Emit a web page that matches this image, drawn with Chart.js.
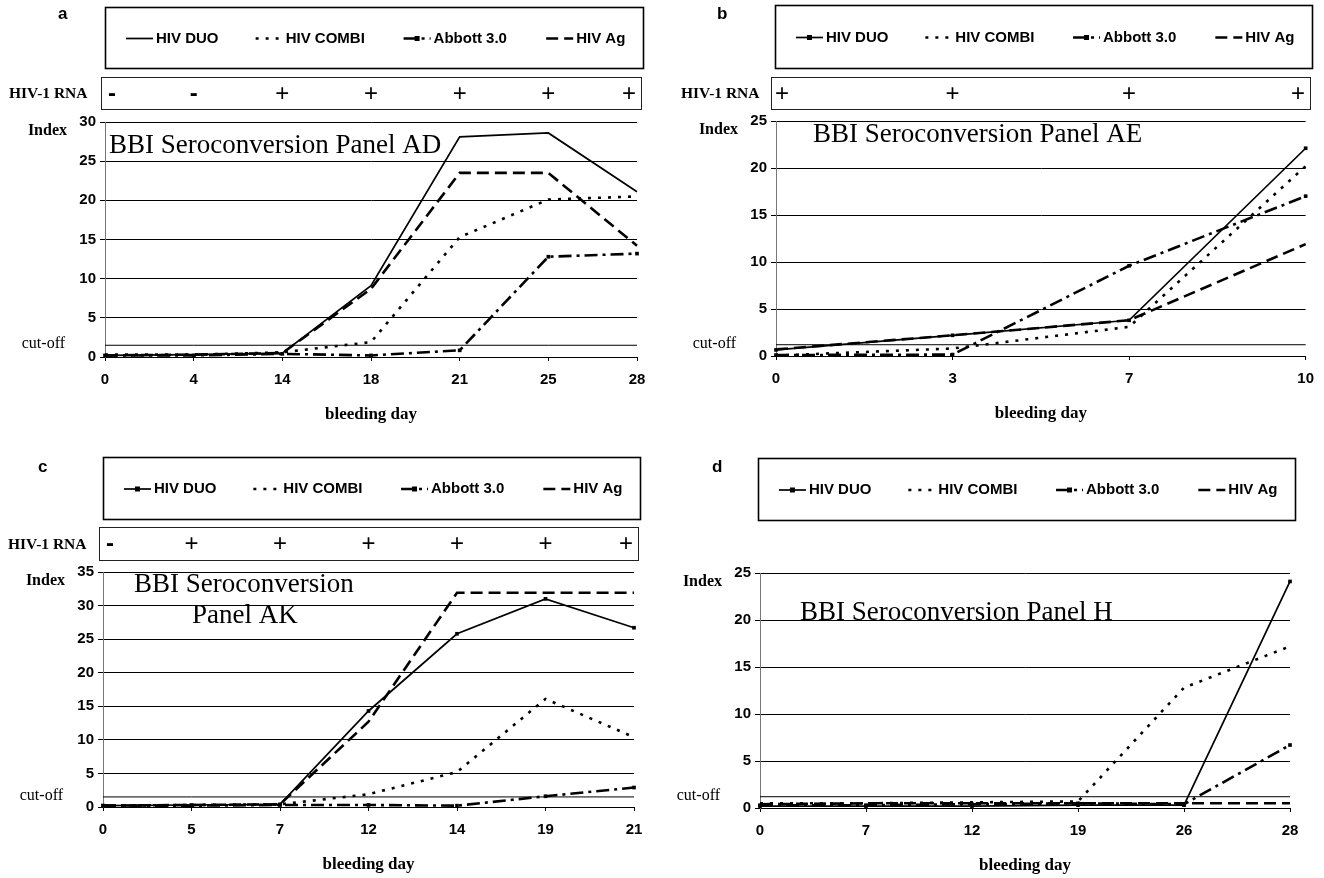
<!DOCTYPE html>
<html><head><meta charset="utf-8">
<script src="https://cdn.jsdelivr.net/npm/chart.js@4.4.1/dist/chart.umd.min.js"></script>
<style>
html,body{margin:0;padding:0;background:#fff;}
#wrap{position:relative;width:1324px;height:878px;background:#fff;}
canvas{position:absolute;}
</style></head><body><div id="wrap">
<canvas id="ca" width="662" height="440" style="left:0;top:0"></canvas>
<canvas id="cb" width="662" height="440" style="left:662px;top:0"></canvas>
<canvas id="cc" width="662" height="440" style="left:0;top:440px"></canvas>
<canvas id="cd" width="662" height="440" style="left:662px;top:440px"></canvas>
</div>
<script>
// ---------- data ----------
const seriesNames = ['HIV DUO', 'HIV COMBI', 'Abbott 3.0', 'HIV Ag'];

// panel a : BBI Seroconversion Panel AD
const daysA   = ['0', '4', '14', '18', '21', '25', '28'];
const duoA    = [0.2, 0.3, 0.5, 9.1, 28.1, 28.6, 21.1];
const combiA  = [0.3, 0.3, 0.6, 1.9, 15.3, 20.1, 20.5];
const abbottA = [0.2, 0.2, 0.4, 0.2, 0.85, 12.8, 13.2];
const agA     = [0.2, 0.3, 0.5, 8.7, 23.5, 23.5, 14.2];
const rnaA    = ['-', '-', '+', '+', '+', '+', '+'];
const yTicksA = [0, 5, 10, 15, 20, 25, 30];
const cutoffA = 1.5;

// panel b : BBI Seroconversion Panel AE
const daysB   = ['0', '3', '7', '10'];
const duoB    = [0.65, 2.2, 3.8, 22.1];
const combiB  = [0.05, 0.8, 3.1, 20.2];
const abbottB = [0.1, 0.15, 9.6, 17.0];
const agB     = [0.7, 2.2, 3.8, 11.9];
const rnaB    = ['+', '+', '+', '+'];
const yTicksB = [0, 5, 10, 15, 20, 25];
const cutoffB = 1.2;

// panel c : BBI Seroconversion Panel AK
const daysC   = ['0', '5', '7', '12', '14', '19', '21'];
const duoC    = [0.2, 0.3, 0.4, 14.3, 25.8, 31.0, 26.7];
const combiC  = [0.2, 0.3, 0.4, 1.9, 5.2, 16.1, 10.4];
const abbottC = [0.2, 0.2, 0.3, 0.3, 0.2, 1.6, 2.9];
const agC     = [0.2, 0.3, 0.4, 12.7, 31.9, 31.9, 31.9];
const rnaC    = ['-', '+', '+', '+', '+', '+', '+'];
const yTicksC = [0, 5, 10, 15, 20, 25, 30, 35];
const cutoffC = 1.5;

// panel d : BBI Seroconversion Panel H
const daysD   = ['0', '7', '12', '19', '26', '28'];
const duoD    = [0.2, 0.2, 0.2, 0.3, 0.3, 24.1];
const combiD  = [0.5, 0.5, 0.6, 0.7, 12.8, 17.2];
const abbottD = [0.3, 0.3, 0.4, 0.5, 0.4, 6.7];
const agD     = [0.4, 0.5, 0.5, 0.5, 0.5, 0.5];
const yTicksD = [0, 5, 10, 15, 20, 25];
const cutoffD = 1.2;

// ---------- layout / styles ----------
const SANS = '"Liberation Sans", Arial, Helvetica, sans-serif';
const SERIF = '"Liberation Serif", "Times New Roman", Times, serif';

const panels = [
  { id:'ca', letter:'a', letterPos:[58,19], area:{l:105,t:122,r:637,b:357},
    days:daysA, series:[duoA,combiA,abbottA,agA], markers:[false,false,true,false],
    rna:rnaA, yTicks:yTicksA, cutoff:cutoffA,
    legendBox:{x:105,y:7,w:538,h:61}, rnaBox:{x:101,y:77,w:540,h:32}, rnaLabel:[9,94],
    titles:[['BBI Seroconversion Panel AD',109,153]] },
  { id:'cb', letter:'b', letterPos:[55,19], area:{l:114,t:121,r:644,b:356},
    days:daysB, series:[duoB,combiB,abbottB,agB], markers:[true,false,true,false],
    rna:rnaB, yTicks:yTicksB, cutoff:cutoffB,
    legendBox:{x:113,y:5,w:537,h:63}, rnaBox:{x:109,y:77,w:539,h:32}, rnaLabel:[19,94],
    titles:[['BBI Seroconversion Panel AE',151,142]] },
  { id:'cc', letter:'c', letterPos:[38,32], area:{l:103,t:132,r:634,b:367},
    days:daysC, series:[duoC,combiC,abbottC,agC], markers:[true,false,true,false],
    rna:rnaC, yTicks:yTicksC, cutoff:cutoffC,
    legendBox:{x:103,y:17,w:537,h:62}, rnaBox:{x:99,y:87,w:539,h:33}, rnaLabel:[8,105],
    titles:[['BBI Seroconversion',134,152],['Panel AK',192,183]] },
  { id:'cd', letter:'d', letterPos:[50,32], area:{l:98,t:133,r:628,b:368},
    days:daysD, series:[duoD,combiD,abbottD,agD], markers:[true,false,true,false],
    rna:null, yTicks:yTicksD, cutoff:cutoffD,
    legendBox:{x:96,y:18,w:537,h:62}, rnaBox:null, rnaLabel:null,
    titles:[['BBI Seroconversion Panel H',138,180]] }
];

const lineStyles = [
  { width:1.7, dash:[] },
  { width:2.6, dash:[3,7] },
  { width:2.6, dash:[13,5,3,5] },
  { width:2.6, dash:[12,6] }
];

const Y_AXIS_W = 50, X_AXIS_H = 40;

function buildPanel(p) {
  const W = 662, H = 440;
  const datasets = p.series.map((vals, i) => ({
    label: seriesNames[i], data: vals,
    borderColor:'#000', backgroundColor:'#000',
    borderWidth: lineStyles[i].width, borderDash: lineStyles[i].dash,
    pointRadius: p.markers[i] ? 2.6 : 0, pointStyle:'rect',
    pointBackgroundColor:'#000', pointBorderColor:'#000', pointBorderWidth:0,
    tension:0, fill:false, clip:false, order:1
  }));
  datasets.push({
    label:'cut-off', data: p.days.map(() => p.cutoff),
    borderColor:'#000', borderWidth:1, pointRadius:0, tension:0, fill:false, order:5
  });

  const extras = {
    id:'extras',
    afterDraw(chart) {
      const ctx = chart.ctx, xs = chart.scales.x, ys = chart.scales.y, ca = chart.chartArea;
      ctx.save();
      ctx.fillStyle = '#000'; ctx.strokeStyle = '#000';
      // panel letter
      ctx.font = 'bold 17px ' + SANS; ctx.textAlign = 'left'; ctx.textBaseline = 'alphabetic';
      ctx.fillText(p.letter, p.letterPos[0], p.letterPos[1]);
      // legend box
      const L = p.legendBox;
      ctx.lineWidth = 1.6; ctx.setLineDash([]);
      ctx.strokeRect(L.x + 0.5, L.y + 0.5, L.w, L.h);
      const fr = [0.039, 0.28, 0.555, 0.82];
      const cy = L.y + L.h / 2 + 1;
      for (let i = 0; i < 4; i++) {
        const ds = chart.data.datasets[i];
        const sx = L.x + fr[i] * L.w, len = 27;
        ctx.beginPath(); ctx.lineWidth = ds.borderWidth; ctx.setLineDash(ds.borderDash);
        ctx.moveTo(sx, cy); ctx.lineTo(sx + len, cy); ctx.stroke();
        ctx.setLineDash([]);
        if (ds.pointRadius > 0) ctx.fillRect(sx + len / 2 - 2.5, cy - 2.5, 5, 5);
        ctx.font = 'bold 15px ' + SANS; ctx.textBaseline = 'middle'; ctx.textAlign = 'left';
        ctx.fillText(ds.label, sx + len + 3, cy);
      }
      // RNA row
      if (p.rnaBox) {
        const R = p.rnaBox;
        ctx.lineWidth = 1; ctx.strokeStyle = '#222';
        ctx.strokeRect(R.x + 0.5, R.y + 0.5, R.w, R.h);
        ctx.font = 'bold 15.5px ' + SERIF; ctx.textAlign = 'left'; ctx.textBaseline = 'middle';
        ctx.fillText('HIV-1 RNA', p.rnaLabel[0], p.rnaLabel[1]);
        const ry = R.y + R.h / 2 + 1;
        p.rna.forEach((s, i) => {
          let x = xs.getPixelForValue(i);
          x = Math.max(R.x + 11, Math.min(R.x + R.w - 12, x));
          ctx.textAlign = 'center';
          ctx.font = (s === '+' ? '' : 'bold ') + '24px ' + SANS;
          ctx.fillText(s, x, ry);
        });
      }
      // Index / cut-off labels
      ctx.font = 'bold 16px ' + SERIF; ctx.textAlign = 'right'; ctx.textBaseline = 'middle';
      ctx.fillText('Index', ca.left - 38, ca.top + 9);
      ctx.font = '16px ' + SERIF;
      ctx.fillText('cut-off', ca.left - 40, ys.getPixelForValue(p.cutoff) - 1);
      // x title
      ctx.font = 'bold 17px ' + SERIF; ctx.textAlign = 'center';
      ctx.fillText('bleeding day', (ca.left + ca.right) / 2, ca.bottom + 58);
      // panel title
      ctx.font = '27px ' + SERIF; ctx.textAlign = 'left'; ctx.textBaseline = 'alphabetic';
      p.titles.forEach(t => ctx.fillText(t[0], t[1], t[2]));
      ctx.restore();
    }
  };

  new Chart(document.getElementById(p.id), {
    type:'line',
    data:{ labels:p.days, datasets },
    options:{
      responsive:false, animation:false, devicePixelRatio:1,
      layout:{ padding:{ left:p.area.l - Y_AXIS_W, top:p.area.t, right:W - p.area.r, bottom:H - p.area.b - X_AXIS_H } },
      plugins:{ legend:{display:false}, tooltip:{enabled:false}, title:{display:false} },
      scales:{
        x:{ type:'category', offset:false,
            grid:{ drawOnChartArea:false, drawTicks:true, tickLength:4, color:'#000', lineWidth:1 },
            border:{ display:true, color:'#000', width:1 },
            ticks:{ color:'#000', font:{ family:SANS, size:15, weight:'bold' }, padding:10, maxRotation:0, autoSkip:false },
            afterFit(s){ s.height = X_AXIS_H; } },
        y:{ min:p.yTicks[0], max:p.yTicks[p.yTicks.length - 1],
            afterBuildTicks(s){ s.ticks = p.yTicks.map(v => ({ value:v })); },
            grid:{ color:'#000', lineWidth:1, drawTicks:true, tickLength:5 },
            border:{ display:true, color:'#777', width:1 },
            ticks:{ color:'#000', font:{ family:SANS, size:15, weight:'bold' }, padding:4 },
            afterFit(s){ s.width = Y_AXIS_W; } }
      }
    },
    plugins:[extras]
  });
}

panels.forEach(buildPanel);
</script>
</body></html>
